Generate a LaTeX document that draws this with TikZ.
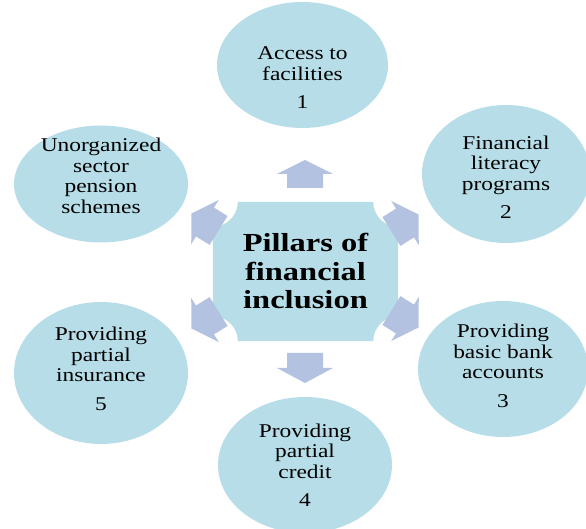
\documentclass[tikz,border=0pt]{standalone}
\usepackage{fontspec}
\setmainfont{Liberation Serif}
\newfontfamily\pillarfont[FakeStretch=1.2]{Liberation Serif}
\newfontfamily\hubfont[FakeStretch=1.25]{Liberation Serif}
\usetikzlibrary{shapes.geometric,backgrounds,calc}
\definecolor{pillarblue}{RGB}{183,222,232}
\definecolor{arrowblue}{RGB}{179,194,224}
\tikzset{
  every picture/.style={x=1pt,y=1pt},
  pillar/.style={ellipse, fill=pillarblue, inner sep=0pt},
  pillartext/.style={align=center, inner sep=0pt,
                     font=\pillarfont\fontsize{19.5}{20.5}\selectfont},
  hubtext/.style={align=center, inner sep=0pt, minimum width=185, minimum height=139,
                  font=\hubfont\bfseries\fontsize{26}{28.5}\selectfont},
  blockarrow/.style={fill=arrowblue},
}
% block arrow: position, direction, half length, head half width, shaft half width
\newcommand{\pillararrow}[5]{%
  \fill[blockarrow, shift={(#1)}, rotate=#2]
    (-#3,-#5) -- (0,-#5) -- (0,-#4) -- (#3,0) -- (0,#4) -- (0,#5) -- (-#3,#5) -- cycle;}

\begin{document}
\begin{tikzpicture}
\useasboundingbox (0,0) rectangle (586,529);

\node[hubtext] (hub) at (305.5,257.5) {Pillars of\\financial\\inclusion};
\begin{scope}[on background layer]
\fill[pillarblue] ($(hub.north west)+(25,0)$) -- ($(hub.north east)+(-25,0)$)
  arc[start angle=180, end angle=270, radius=25] -- ($(hub.south east)+(0,25)$)
  arc[start angle=90, end angle=180, radius=25] -- ($(hub.south west)+(25,0)$)
  arc[start angle=0, end angle=90, radius=25] -- ($(hub.north west)+(0,-25)$)
  arc[start angle=270, end angle=360, radius=25] -- cycle;
\end{scope}

\node[pillar, minimum width=171, minimum height=126] (access) at (302.5,464) {};
\node[pillartext] (accesstext) at ([yshift=-13]access.center)
  {Access to\\facilities\\[8pt]1};
\node[pillar, minimum width=168, minimum height=138] (literacy) at (506,355) {};
\node[pillartext] (literacytext) at ([yshift=-3]literacy.center)
  {Financial\\literacy\\programs\\[8pt]2};
\node[pillar, minimum width=170, minimum height=136] (accounts) at (503,160) {};
\node[pillartext] (accountstext) at ([yshift=3]accounts.center)
  {Providing\\basic bank\\accounts\\[8pt]3};
\node[pillar, minimum width=174, minimum height=136] (credit) at (305,64) {};
\node[pillartext] (credittext) at (credit.center)
  {Providing\\partial\\credit\\[8pt]4};
\node[pillar, minimum width=174, minimum height=142] (insurance) at (101,156) {};
\node[pillartext] (insurancetext) at ([yshift=4]insurance.center)
  {Providing\\partial\\insurance\\[8pt]5};
\node[pillar, minimum width=174, minimum height=117] (pension) at (101,345) {};
\node[pillartext] (pensiontext) at ([yshift=8]pension.center)
  {Unorganized\\sector\\pension\\schemes};

\coordinate (toaccess) at (305,355);
\coordinate (tocredit) at (305,161);
\coordinate (toliteracy) at (405,306);
\coordinate (toaccounts) at (405,210);
\coordinate (topension) at (205,307);
\coordinate (toinsurance) at (205,209);
\pillararrow{toaccess}{90}{14}{28}{18}
\pillararrow{tocredit}{270}{15}{28}{18}
\pillararrow{toliteracy}{32}{16}{26}{17}
\pillararrow{toaccounts}{328}{16}{26}{17}
\pillararrow{topension}{148}{16}{26}{17}
\pillararrow{toinsurance}{212}{16}{26}{17}
\end{tikzpicture}
\end{document}
